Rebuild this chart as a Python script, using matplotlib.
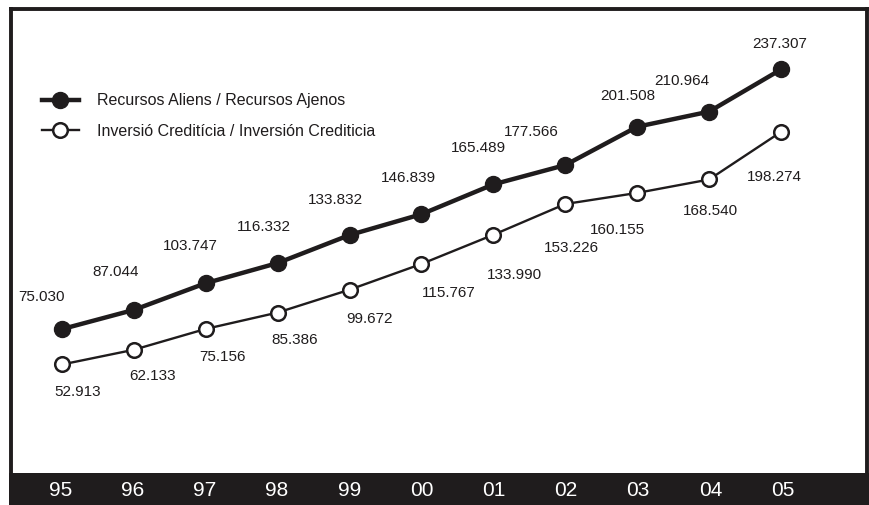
import matplotlib
matplotlib.use("Agg")
import matplotlib.pyplot as plt

# ========== 数据 ==========
anys = ["95", "96", "97", "98", "99", "00", "01", "02", "03", "04", "05"]
recursos_ajenos = [75.030, 87.044, 103.747, 116.332, 133.832, 146.839,
                   165.489, 177.566, 201.508, 210.964, 237.307]
inversion_crediticia = [52.913, 62.133, 75.156, 85.386, 99.672, 115.767,
                        133.990, 153.226, 160.155, 168.540, 198.274]
serie_1 = "Recursos Aliens / Recursos Ajenos"
serie_2 = "Inversió Creditícia / Inversión Crediticia"

FONT = "Liberation Sans"
INK = "#1f1c1d"

W, H = 869, 505
fig = plt.figure(figsize=(W / 100, H / 100), dpi=100)
fig.patch.set_facecolor("white")

def rect(x0, y0, x1, y1):
    # 像素 -> 图形比例坐标（y 从上往下）
    return [x0 / W, 1 - y1 / H, (x1 - x0) / W, (y1 - y0) / H]

ax = fig.add_axes(rect(11, 9, 867, 473))
band = fig.add_axes(rect(9, 473, 869, 505), sharex=ax)

x = list(range(len(anys)))
ax.plot(x, recursos_ajenos, color=INK, lw=3.2, marker="o", ms=11.5,
        mfc=INK, mec=INK, label=serie_1, zorder=3)
ax.plot(x, inversion_crediticia, color=INK, lw=1.7, marker="o", ms=10.5,
        mfc="white", mec=INK, mew=1.8, label=serie_2, zorder=3)

ax.set_xlim(-0.709, 11.196)
ax.set_ylim(-14.9, 275.1)
ax.set_xticks([])
ax.set_yticks([])
for s in ax.spines.values():
    s.set_linewidth(2.8)
    s.set_color(INK)
ax.spines["bottom"].set_visible(False)

# 数值标签偏移（像素）
off_top = [(-20, 32), (-18, 38), (-15, 37), (-14, 36), (-14, 35), (-13, 36),
           (-15, 36), (-34, 33), (-9, 31), (-27, 31), (-1, 25)]
off_bot = [(16, -28), (19, -26), (17, -28), (17, -27), (20, -29), (27, -29),
           (21, -40), (6, -44), (-20, -37), (1, -32), (-7, -45)]
for i, v in enumerate(recursos_ajenos):
    ax.annotate(f"{v:.3f}", (i, v), xytext=off_top[i], textcoords="offset pixels",
                ha="center", va="center", fontsize=11, family=FONT, color=INK)
for i, v in enumerate(inversion_crediticia):
    ax.annotate(f"{v:.3f}", (i, v), xytext=off_bot[i], textcoords="offset pixels",
                ha="center", va="center", fontsize=11, family=FONT, color=INK)

leg = ax.legend(loc="center left", bbox_to_anchor=(42 / W, 1 - 116 / H),
                bbox_transform=fig.transFigure, frameon=False, borderpad=0,
                borderaxespad=0, handlelength=2.3, handletextpad=1.15,
                labelspacing=0.95, prop={"family": FONT, "size": 11.5})
for t in leg.get_texts():
    t.set_color(INK)

# 底部黑色年份条
band.set_facecolor(INK)
band.set_ylim(0, 1)
band.set_xticks([])
band.set_yticks([])
for s in band.spines.values():
    s.set_visible(False)
for i, a in enumerate(anys):
    band.text(i, 0.44, a, ha="center", va="center", color="white",
              fontsize=15, family=FONT)

fig.savefig("out.png", dpi=100)
